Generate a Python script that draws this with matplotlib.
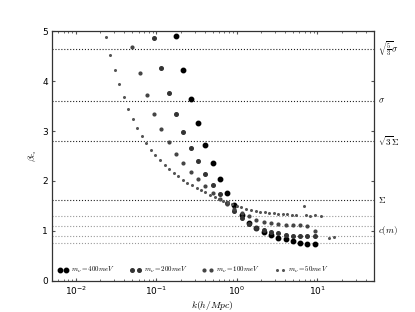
import matplotlib
matplotlib.use("Agg")
import matplotlib.pyplot as plt
import matplotlib.transforms as mtransforms
from matplotlib.font_manager import FontProperties

# k grid shared by the 400/200/100 meV runs (h/Mpc)
k_grid = [0.050, 0.0617, 0.0760, 0.0937, 0.115, 0.142, 0.175, 0.216, 0.266,
          0.328, 0.405, 0.499, 0.615, 0.757, 0.933, 1.15, 1.42, 1.75, 2.16,
          2.66, 3.27, 4.03, 4.97, 6.13, 7.55, 9.31]

k_400 = k_grid[6:]
beta_400 = [4.91, 4.22, 3.64, 3.16, 2.73, 2.35, 2.03, 1.75, 1.51, 1.31, 1.16,
            1.05, 0.97, 0.91, 0.86, 0.83, 0.79, 0.76, 0.74, 0.73]

k_200 = k_grid[3:]
beta_200 = [4.86, 4.27, 3.77, 3.34, 2.98, 2.67, 2.39, 2.14, 1.92, 1.73, 1.55,
            1.39, 1.25, 1.13, 1.05, 1.01, 0.98, 0.95, 0.91, 0.90, 0.89, 0.89,
            0.89]

k_100 = k_grid
beta_100 = [4.69, 4.17, 3.72, 3.34, 3.04, 2.78, 2.55, 2.35, 2.18, 2.03, 1.89,
            1.76, 1.64, 1.53, 1.44, 1.36, 1.29, 1.21, 1.18, 1.15, 1.13, 1.12,
            1.11, 1.11, 1.10, 0.99]

k_50 = [0.0234, 0.0265, 0.0301, 0.0341, 0.0394, 0.0446, 0.0510, 0.0577,
        0.0661, 0.0748, 0.0857, 0.0969, 0.112, 0.127, 0.145, 0.164, 0.186,
        0.213, 0.242, 0.275, 0.316, 0.357, 0.406, 0.459, 0.530, 0.600, 0.681,
        0.770, 0.871, 0.998, 1.14, 1.29, 1.49, 1.71, 1.93, 2.21, 2.53, 2.89,
        3.27, 3.75, 4.24, 4.86, 5.50, 6.81, 7.20, 8.15, 9.23, 11.2, 13.9, 16.0]
beta_50 = [4.89, 4.53, 4.23, 3.95, 3.68, 3.44, 3.24, 3.07, 2.90, 2.76, 2.63,
           2.52, 2.41, 2.32, 2.23, 2.16, 2.09, 2.02, 1.96, 1.91, 1.86, 1.82,
           1.77, 1.72, 1.68, 1.64, 1.60, 1.57, 1.54, 1.50, 1.47, 1.44, 1.42,
           1.40, 1.38, 1.37, 1.36, 1.35, 1.34, 1.33, 1.33, 1.32, 1.31, 1.50,
           1.32, 1.30, 1.31, 1.30, 0.85, 0.88]

ref_levels = [4.65, 3.60, 2.80, 1.61]
ref_labels = [r"$\sqrt{\frac{5}{3}}\sigma$", r"$\sigma$", r"$\sqrt{3}\Sigma$", r"$\Sigma$"]
cm_levels = [1.30, 1.10, 0.89, 0.75]
cm_label_y = 1.0

series = [
    (k_400, beta_400, r"$m_\nu=400meV$", "#000000", 3.2),
    (k_200, beta_200, r"$m_\nu=200meV$", "#333333", 2.6),
    (k_100, beta_100, r"$m_\nu=100meV$", "#444444", 2.0),
    (k_50, beta_50, r"$m_\nu=50meV$", "#555555", 1.2),
]

fig = plt.figure(figsize=(4.15, 3.12), dpi=100)
ax = fig.add_axes([0.125, 0.1, 0.775, 0.8])

for lvl in ref_levels:
    ax.axhline(lvl, color="#222222", ls=":", lw=0.8)
for lvl in cm_levels:
    ax.axhline(lvl, color="#999999", ls=":", lw=0.8)

for k, b, lab, col, ms in series:
    ax.plot(k, b, ls="none", marker="o", ms=ms, color=col, mec=col, label=lab)

ax.set_xscale("log")
ax.set_xlim(0.005, 50)
ax.set_ylim(0, 5)
ax.set_yticks([0, 1, 2, 3, 4, 5])
ax.tick_params(which="both", direction="in", top=True, right=True, labelsize=6.5,
               color="#555555")
ax.tick_params(which="major", length=2.5, pad=3)
ax.tick_params(which="minor", length=1.3)
for sp in ax.spines.values():
    sp.set_linewidth(0.9)
    sp.set_color("#333333")

ax.set_xlabel(r"$k(h/Mpc)$", fontsize=7, math_fontfamily="cm", labelpad=1)
ax.set_ylabel(r"$\beta_{c_s}$", fontsize=7, math_fontfamily="cm", labelpad=2)

trans = mtransforms.blended_transform_factory(ax.transAxes, ax.transData)
for lvl, lab in zip(ref_levels, ref_labels):
    ax.text(1.015, lvl, lab, transform=trans, ha="left", va="center",
            fontsize=6.5, math_fontfamily="cm")
ax.text(1.015, cm_label_y, r"$c(m)$", transform=trans, ha="left", va="center",
        fontsize=6.5, math_fontfamily="cm")

leg_font = FontProperties(size=5.0, math_fontfamily="cm")
ax.legend(loc="lower left", ncol=4, numpoints=2, frameon=False, prop=leg_font,
          handlelength=1.6, handletextpad=0.4, columnspacing=2.1,
          borderaxespad=0.4)

fig.savefig("out.png", dpi=100)
